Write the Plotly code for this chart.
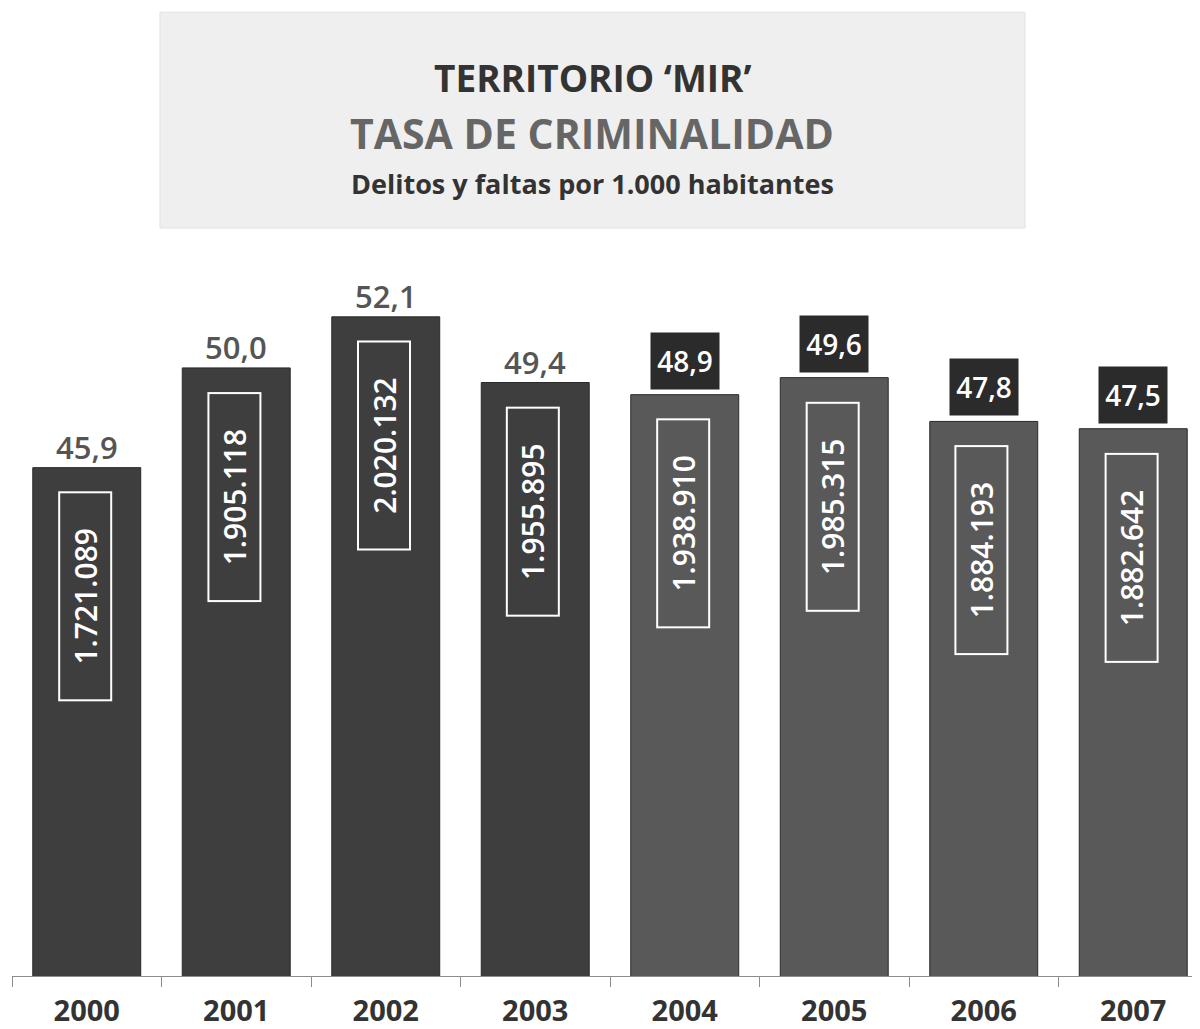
import plotly.graph_objects as go

# Datos
anios = ['2000', '2001', '2002', '2003', '2004', '2005', '2006', '2007']
tasa = [45.9, 50.0, 52.1, 49.4, 48.9, 49.6, 47.8, 47.5]
delitos = ['1.721.089', '1.905.118', '2.020.132', '1.955.895',
           '1.938.910', '1.985.315', '1.884.193', '1.882.642']

FUENTE = 'Open Sans'


def fmt(v):
    return f'{v:.1f}'.replace('.', ',')


def crear_grafico():
    """Gráfico de barras de la tasa de criminalidad"""
    colores = ['#3e3e3e' if int(a) < 2004 else '#595959' for a in anios]

    fig = go.Figure(go.Bar(
        x=anios,
        y=tasa,
        marker=dict(color=colores, line=dict(color='#2a2a2a', width=1)),
        hoverinfo='skip',
    ))

    anotaciones = []
    for i, (a, v, d) in enumerate(zip(anios, tasa, delitos)):
        # caja vertical con el número de delitos
        anotaciones.append(dict(
            x=i, y=v - 5.3, xref='x', yref='y', text=d, showarrow=False,
            textangle=-90, width=206, height=50, borderpad=0, xshift=-2,
            bordercolor='white', borderwidth=2,
            font=dict(family=FUENTE, size=30, color='white', weight=600),
        ))
        if int(a) < 2004:
            anotaciones.append(dict(
                x=i, y=v, xref='x', yref='y', text=fmt(v), showarrow=False,
                yanchor='bottom', yshift=-2,
                font=dict(family=FUENTE, size=31, color='#555555', weight=600),
            ))
        else:
            anotaciones.append(dict(
                x=i, y=v, xref='x', yref='y', text=fmt(v), showarrow=False,
                yanchor='bottom', yshift=5, width=66, height=54,
                bgcolor='#2b2b2b', borderpad=1,
                font=dict(family=FUENTE, size=28, color='white', weight=600),
            ))

    # títulos dentro de la caja superior
    titulos = [
        ("TERRITORIO ‘MIR’", 1.205, 37, '#333333'),
        ('TASA DE CRIMINALIDAD', 1.130, 41, '#666666'),
        ('Delitos y faltas por 1.000 habitantes', 1.063, 27, '#333333'),
    ]
    for txt, yp, size, col in titulos:
        anotaciones.append(dict(
            x=0.485, y=yp, xref='paper', yref='paper', text=txt,
            showarrow=False, xanchor='center', yanchor='middle',
            font=dict(family=FUENTE, size=size, color=col, weight='bold'),
        ))

    fig.update_layout(
        width=1200, height=1029,
        margin=dict(l=4, r=0, t=222, b=61),
        paper_bgcolor='white', plot_bgcolor='white',
        bargap=0.278,
        showlegend=False,
        annotations=anotaciones,
        shapes=[dict(
            type='rect', xref='paper', yref='paper',
            x0=0.1237, x1=0.847, y0=1.0027, y1=1.292,
            fillcolor='#efefef', line=dict(color='#e2e2e2', width=1),
            layer='below',
        )],
    )
    fig.update_xaxes(
        type='category', range=[-0.5, 7.5],
        showline=True, linecolor='#8c8c8c', linewidth=1,
        ticks='outside', tickson='boundaries', ticklen=10, tickcolor='#8c8c8c',
        ticklabelstandoff=9,
        tickfont=dict(family=FUENTE, size=29, color='#333333', weight='bold'),
        showgrid=False, fixedrange=True,
    )
    fig.update_yaxes(range=[25, 55.67], visible=False, fixedrange=True)
    return fig


fig = crear_grafico()
fig.write_html('out.html')
